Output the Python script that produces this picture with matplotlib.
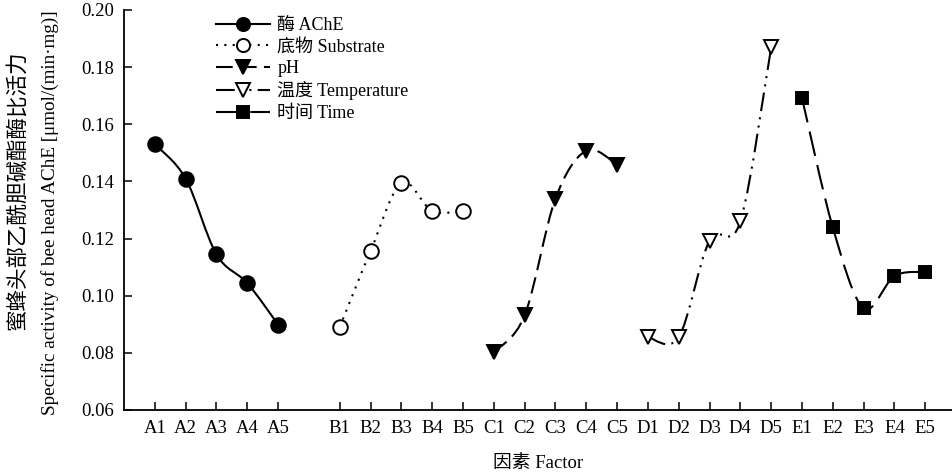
import numpy as np
import matplotlib
matplotlib.use("Agg")
import matplotlib.pyplot as plt
from matplotlib.path import Path
from matplotlib.patches import PathPatch
from matplotlib.lines import Line2D

plt.rcParams['font.family'] = ['Liberation Serif', 'Noto Sans CJK SC', 'DejaVu Sans']

# ---- data ----
tick_labels = ["A1", "A2", "A3", "A4", "A5",
               "B1", "B2", "B3", "B4", "B5",
               "C1", "C2", "C3", "C4", "C5",
               "D1", "D2", "D3", "D4", "D5",
               "E1", "E2", "E3", "E4", "E5"]
pos_A = [0, 1, 2, 3, 4]
pos_B = [6, 7, 8, 9, 10]
pos_C = [11, 12, 13, 14, 15]
pos_D = [16, 17, 18, 19, 20]
pos_E = [21, 22, 23, 24, 25]

ache = [0.153, 0.141, 0.1145, 0.1044, 0.0899]
substrate = [0.089, 0.1156, 0.1394, 0.1297, 0.1297]
ph = [0.0802, 0.0931, 0.1340, 0.1508, 0.1459]
temperature = [0.0855, 0.0855, 0.1193, 0.1260, 0.1869]
time_ = [0.1692, 0.1239, 0.0956, 0.1069, 0.1083]

names = ["酶 AChE", "底物 Substrate", "pH", "温度 Temperature", "时间 Time"]

fig = plt.figure(figsize=(9.53, 4.72), dpi=100)
ax = fig.add_axes([124 / 953, 1 - 410 / 472, 1 - 124 / 953, 400 / 472])


def smooth_path(xs, ys):
    xs = np.asarray(xs, float)
    ys = np.asarray(ys, float)
    pts = np.column_stack([xs, ys])
    n = len(pts)
    verts = [pts[0]]
    codes = [Path.MOVETO]
    for i in range(n - 1):
        p0 = pts[i - 1] if i > 0 else pts[i]
        p1 = pts[i]
        p2 = pts[i + 1]
        p3 = pts[i + 2] if i + 2 < n else pts[i + 1]
        c1 = p1 + (p2 - p0) / 6.0
        c2 = p2 - (p3 - p1) / 6.0
        verts += [c1, c2, p2]
        codes += [Path.CURVE4] * 3
    return Path(verts, codes)


styles = [
    dict(ls='-', marker='o', mfc='black', ms=10.5),
    dict(ls=(0, (1, 3)), marker='o', mfc='white', ms=10.5),
    dict(ls=(0, (8, 3.5)), marker='v', mfc='black', ms=10.5),
    dict(ls=(0, (9, 3, 1, 3, 1, 3)), marker='v', mfc='white', ms=10.5),
    dict(ls=(0, (12, 4.5)), marker='s', mfc='black', ms=9),
]
series = [(pos_A, ache), (pos_B, substrate), (pos_C, ph),
          (pos_D, temperature), (pos_E, time_)]

handles = []
for (xs, ys), st in zip(series, styles):
    patch = PathPatch(smooth_path(xs, ys), facecolor='none', edgecolor='black',
                      lw=1.5, linestyle=st['ls'], zorder=2)
    ax.add_patch(patch)
    ax.plot(xs, ys, ls='none', marker=st['marker'], mfc=st['mfc'], mec='black',
            mew=1.4, ms=st['ms'], zorder=3)
    handles.append(Line2D([], [], color='black', lw=1.5, ls=st['ls'],
                          marker=st['marker'], mfc=st['mfc'], mec='black',
                          mew=1.4, ms=st['ms'] * 0.9))

ax.set_xlim(-1, 25.9)
ax.set_ylim(0.06, 0.20)
ax.set_yticks(np.arange(0.06, 0.2001, 0.02))
ax.set_yticklabels([f"{v:.2f}" for v in np.arange(0.06, 0.2001, 0.02)])
ax.set_xticks(pos_A + pos_B + pos_C + pos_D + pos_E)
ax.set_xticklabels(tick_labels)
ax.tick_params(direction='in', length=6, width=1.1, labelsize=13.5, pad=7)
for s in ['top', 'right']:
    ax.spines[s].set_visible(False)
for s in ['left', 'bottom']:
    ax.spines[s].set_linewidth(1.3)

ax.set_xlabel("因素 Factor", fontsize=13.5, labelpad=13)

fig.text(18 / 953, 1 - 190 / 472, "蜜蜂头部乙酰胆碱酯酶比活力", rotation=90,
         ha='center', va='center', fontsize=15.5)
fig.text(50 / 953, 1 - 213 / 472,
         "Specific activity of bee head AChE [μmol/(min·mg)]", rotation=90,
         ha='center', va='center', fontsize=13.8)

leg = ax.legend(handles, names, loc='upper left',
                bbox_to_anchor=((205 - 124) / 829, 1.01), frameon=False,
                fontsize=13, handlelength=3.0, handletextpad=0.4,
                labelspacing=0.25, borderaxespad=0.2)

fig.savefig("out.png", dpi=100)
